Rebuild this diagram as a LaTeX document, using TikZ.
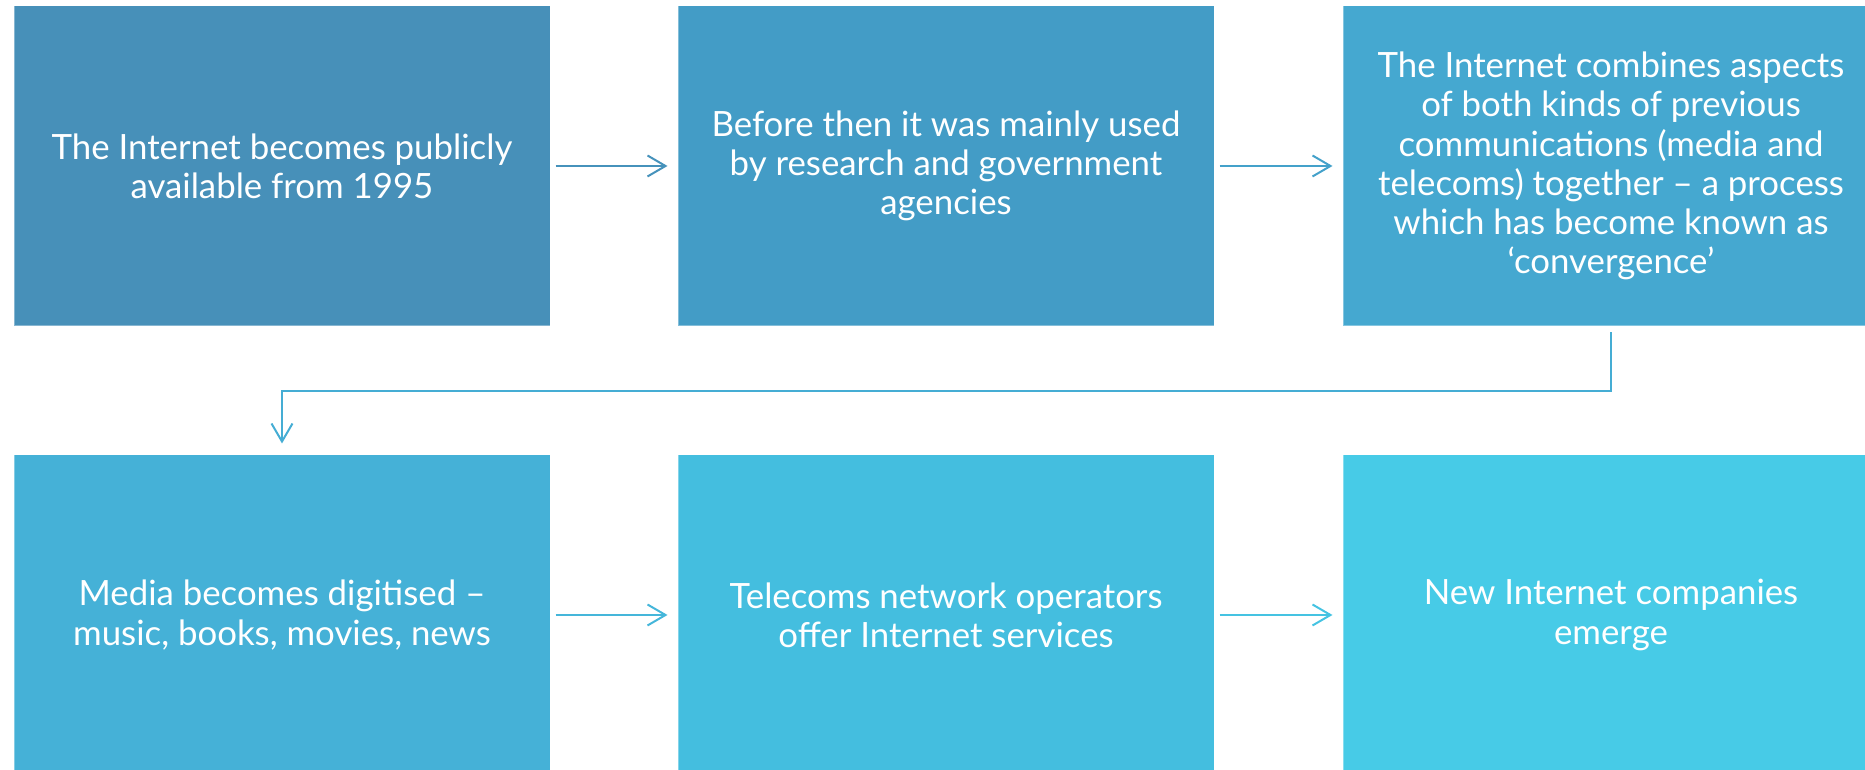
\documentclass[tikz,border=0pt]{standalone}
\usepackage{fontspec}
\setmainfont{Lato}
\usepackage{tikz}
\usetikzlibrary{arrows.meta}

% step colours, darkest first
\definecolor{stepA}{HTML}{4790B9}
\definecolor{stepB}{HTML}{439CC6}
\definecolor{stepC}{HTML}{45A8D0}
\definecolor{stepD}{HTML}{45B1D7}
\definecolor{stepE}{HTML}{44BEDF}
\definecolor{stepF}{HTML}{47CBE7}

\begin{document}
\begin{tikzpicture}[x=0.5pt,y=0.5pt]
\tikzstyle{stepbox}=[draw=white, draw opacity=0.35, line width=0.5pt,
  minimum width=268pt, minimum height=160pt, inner sep=0pt,
  text=white, align=center, font=\fontsize{17.4}{19.6}\selectfont]
\tikzstyle{link}=[line width=1pt, -{Straight Barb[length=9pt,width=10.5pt]},
  shorten <=2.5pt, shorten >=5pt]
\useasboundingbox (0,0) rectangle (1865,770);
% top row
\node [stepbox, fill=stepA] (public) at (282,604) {The Internet becomes publicly\\available from 1995};
\node [stepbox, fill=stepB] (before) at (946,604) {Before then it was mainly used\\by research and government\\agencies};
\node [stepbox, fill=stepC] (combine) at (1611,604) {The Internet combines aspects\\of both kinds of previous\\communications (media and\\telecoms) together -- a process\\which has become known as\\`convergence'};
% bottom row
\node [stepbox, fill=stepD] (digital) at (282,155) {Media becomes digitised --\\music, books, movies, news};
\node [stepbox, fill=stepE] (telecom) at (946,155) {Telecoms network operators\\offer Internet services};
\node [stepbox, fill=stepF] (newco) at (1611,155) {New Internet companies\\emerge};
% arrows
\draw [link, stepA!85!stepB] (public) -- (before);
\draw [link, stepB!60!stepC] (before) -- (combine);
\draw [link, stepC!40!stepD, shorten <=3pt, shorten >=5.5pt] (combine.south) -- ++(0,-65) -| (digital.north);
\draw [link, stepD!60!stepE] (digital) -- (telecom);
\draw [link, stepE!60!stepF] (telecom) -- (newco);
\end{tikzpicture}
\end{document}
